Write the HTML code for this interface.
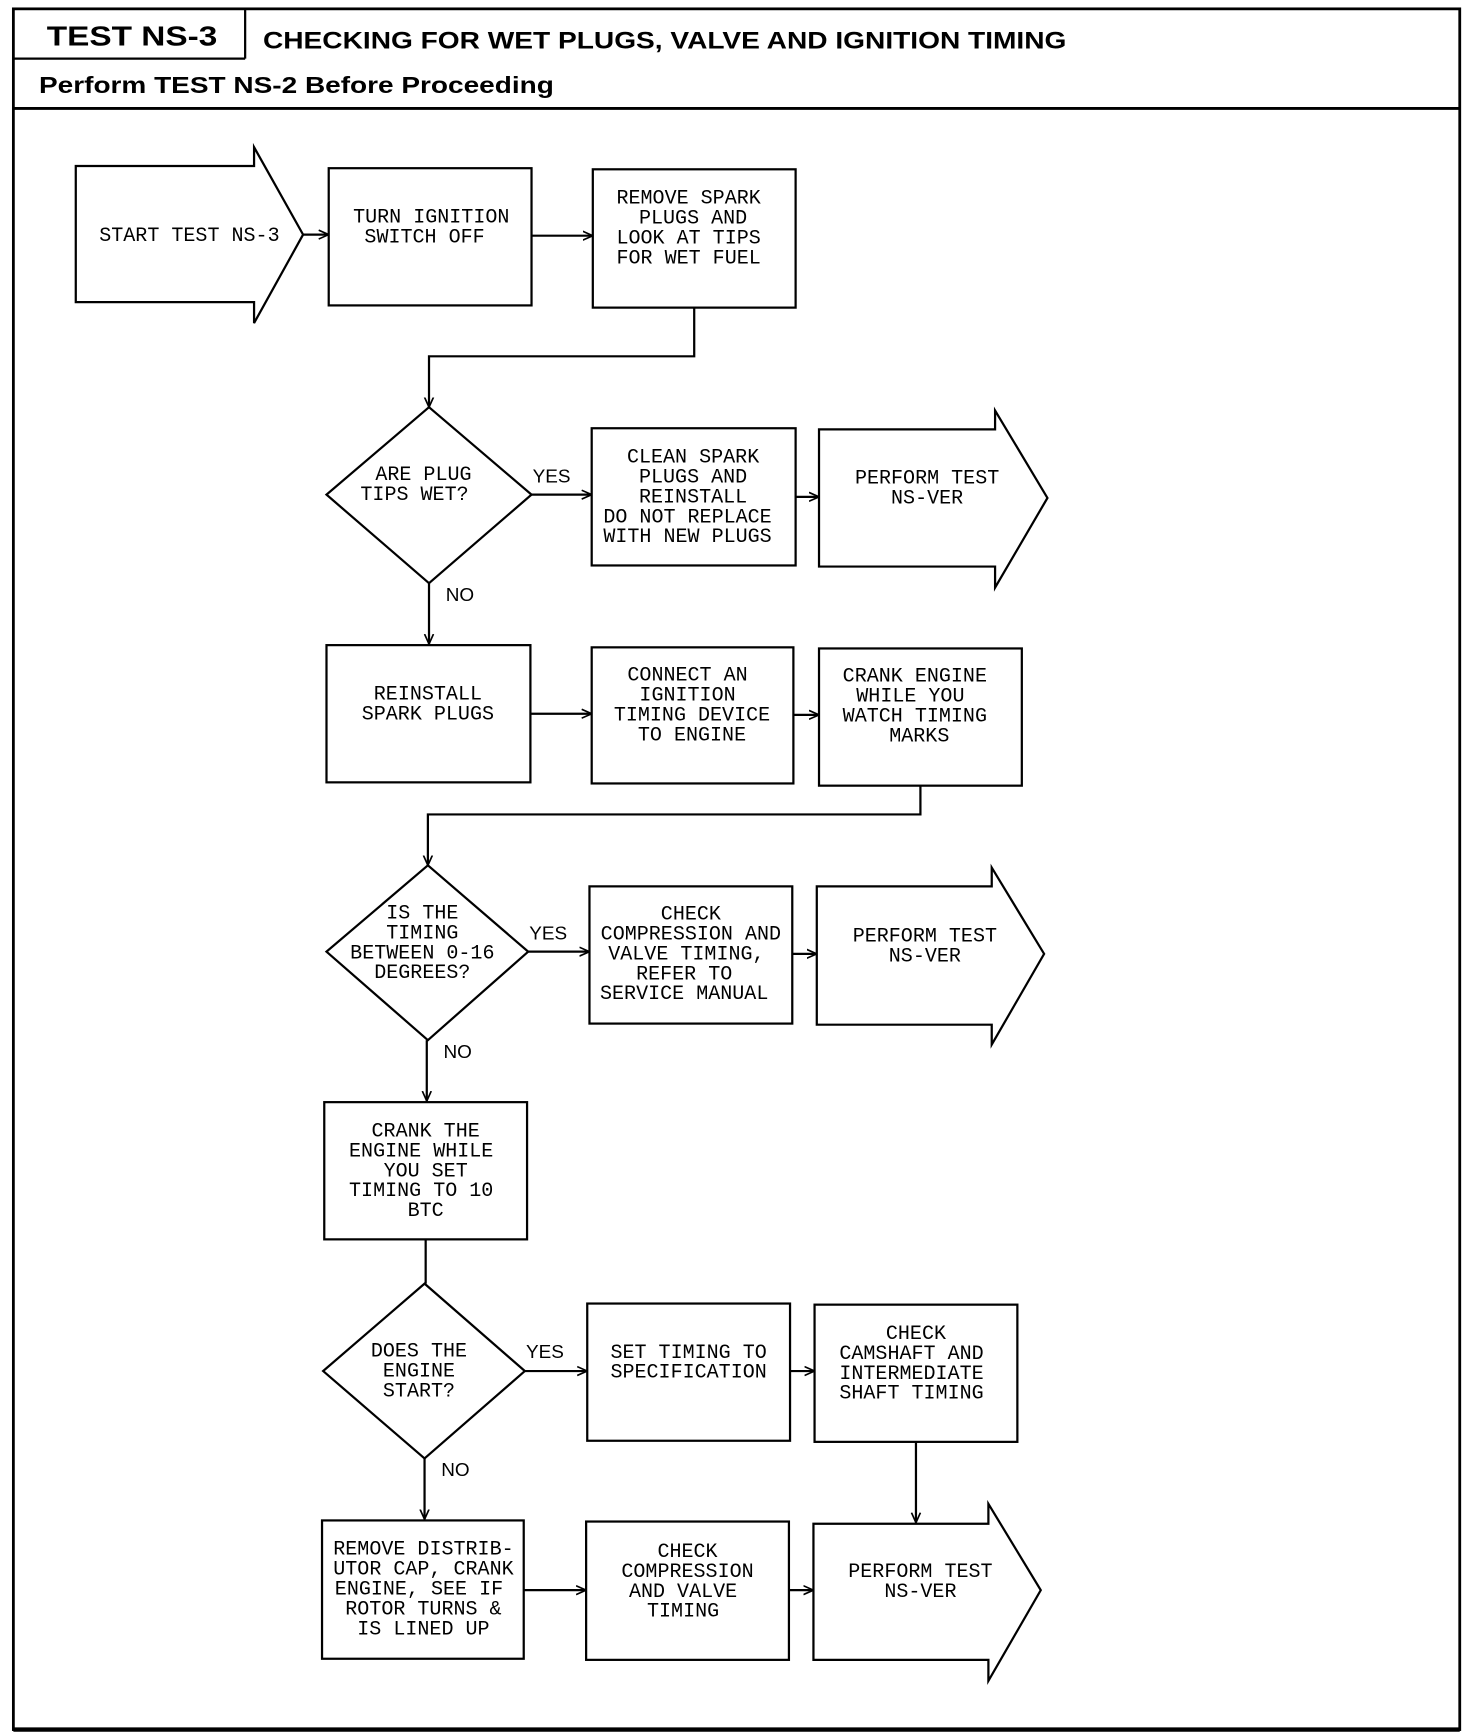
<!DOCTYPE html>
<html><head><meta charset="utf-8"><style>
html,body{margin:0;padding:0;background:#fff;}
svg{display:block;}
.b{fill:#fff;stroke:#000;stroke-width:2;}
.l{fill:none;stroke:#000;stroke-width:2;}
.t{font-family:"Liberation Mono",monospace;font-size:18px;fill:#000;text-anchor:middle;}
.y{font-family:"Liberation Sans",sans-serif;font-size:17px;fill:#000;}
.h{font-family:"Liberation Sans",sans-serif;font-weight:bold;fill:#000;}
</style></head><body>
<svg width="1472" height="1734" viewBox="0 0 1321 1567" preserveAspectRatio="none" xmlns="http://www.w3.org/2000/svg">
<defs><marker id="a" markerWidth="10" markerHeight="10" refX="9" refY="5" orient="auto" markerUnits="userSpaceOnUse"><path d="M0,1 L9,5 L0,9" fill="none" stroke="#000" stroke-width="1.5"/></marker></defs>
<rect x="12" y="8" width="1298" height="1555" fill="none" stroke="#000" stroke-width="2.5"/>
<line x1="12" y1="1563" x2="1310" y2="1563" stroke="#000" stroke-width="4"/>
<line x1="12" y1="53" x2="220" y2="53" stroke="#000" stroke-width="2"/>
<line x1="220" y1="8" x2="220" y2="53" stroke="#000" stroke-width="2"/>
<line x1="12" y1="98" x2="1310" y2="98" stroke="#000" stroke-width="2.5"/>
<text class="h" x="42" y="41" font-size="25" textLength="153" lengthAdjust="spacingAndGlyphs">TEST NS-3</text>
<text class="h" x="236" y="44" font-size="22" textLength="721" lengthAdjust="spacingAndGlyphs">CHECKING FOR WET PLUGS, VALVE AND IGNITION TIMING</text>
<text class="h" x="35" y="84" font-size="21" textLength="462" lengthAdjust="spacingAndGlyphs">Perform TEST NS-2 Before Proceeding</text>

<!-- row 1 -->
<path class="b" d="M68,150 L228,150 L228,133 L272,212 L228,292 L228,273 L68,273 Z"/>
<text class="t" x="170" y="218">START TEST NS-3</text>
<line class="l" x1="272" y1="212" x2="295" y2="212" marker-end="url(#a)"/>
<rect class="b" x="295" y="152" width="182" height="124"/>
<text class="t" x="387" y="201">TURN IGNITION</text><text class="t" x="381" y="219">SWITCH OFF</text>
<line class="l" x1="477" y1="213" x2="532" y2="213" marker-end="url(#a)"/>
<rect class="b" x="532" y="153" width="182" height="125"/>
<text class="t" x="618" y="184">REMOVE SPARK</text><text class="t" x="622" y="202">PLUGS AND</text><text class="t" x="618" y="220">LOOK AT TIPS</text><text class="t" x="618" y="238">FOR WET FUEL</text>
<polyline class="l" points="623,278 623,322 385,322 385,368" marker-end="url(#a)"/>

<!-- row 2 -->
<path class="b" d="M385,368 L477,447 L385,527 L293,447 Z"/>
<text class="t" x="380" y="434">ARE PLUG</text><text class="t" x="372" y="452">TIPS WET?</text>
<text class="y" x="478" y="436">YES</text>
<line class="l" x1="477" y1="447" x2="531" y2="447" marker-end="url(#a)"/>
<rect class="b" x="531" y="387" width="183" height="124"/>
<text class="t" x="622" y="418">CLEAN SPARK</text><text class="t" x="622" y="436">PLUGS AND</text><text class="t" x="622" y="454">REINSTALL</text><text class="t" x="617" y="472">DO NOT REPLACE</text><text class="t" x="617" y="490">WITH NEW PLUGS</text>
<line class="l" x1="714" y1="449" x2="735" y2="449" marker-end="url(#a)"/>
<path class="b" d="M735,388 L893,388 L893,371 L940,450 L893,531 L893,512 L735,512 Z"/>
<text class="t" x="832" y="437">PERFORM TEST</text><text class="t" x="832" y="455">NS-VER</text>
<text class="y" x="400" y="543">NO</text>
<line class="l" x1="385" y1="527" x2="385" y2="582" marker-end="url(#a)"/>

<!-- row 3 -->
<rect class="b" x="293" y="583" width="183" height="124"/>
<text class="t" x="384" y="632">REINSTALL</text><text class="t" x="384" y="650">SPARK PLUGS</text>
<line class="l" x1="476" y1="645" x2="531" y2="645" marker-end="url(#a)"/>
<rect class="b" x="531" y="585" width="181" height="123"/>
<text class="t" x="617" y="615">CONNECT AN</text><text class="t" x="617" y="633">IGNITION</text><text class="t" x="621" y="651">TIMING DEVICE</text><text class="t" x="621" y="669">TO ENGINE</text>
<line class="l" x1="712" y1="646" x2="735" y2="646" marker-end="url(#a)"/>
<rect class="b" x="735" y="586" width="182" height="124"/>
<text class="t" x="821" y="616">CRANK ENGINE</text><text class="t" x="817" y="634">WHILE YOU</text><text class="t" x="821" y="652">WATCH TIMING</text><text class="t" x="825" y="670">MARKS</text>
<polyline class="l" points="826,710 826,736 384,736 384,782" marker-end="url(#a)"/>

<!-- row 4 -->
<path class="b" d="M384,782 L474,860 L384,940 L293,860 Z"/>
<text class="t" x="379" y="830">IS THE</text><text class="t" x="379" y="848">TIMING</text><text class="t" x="379" y="866">BETWEEN 0-16</text><text class="t" x="379" y="884">DEGREES?</text>
<text class="y" x="475" y="849">YES</text>
<line class="l" x1="474" y1="860" x2="529" y2="860" marker-end="url(#a)"/>
<rect class="b" x="529" y="801" width="182" height="124"/>
<text class="t" x="620" y="831">CHECK</text><text class="t" x="620" y="849">COMPRESSION AND</text><text class="t" x="616" y="867">VALVE TIMING,</text><text class="t" x="614" y="885">REFER TO</text><text class="t" x="614" y="903">SERVICE MANUAL</text>
<line class="l" x1="711" y1="862" x2="733" y2="862" marker-end="url(#a)"/>
<path class="b" d="M733,801 L890,801 L890,784 L937,862 L890,944 L890,926 L733,926 Z"/>
<text class="t" x="830" y="851">PERFORM TEST</text><text class="t" x="830" y="869">NS-VER</text>
<text class="y" x="398" y="956">NO</text>
<line class="l" x1="383" y1="940" x2="383" y2="995" marker-end="url(#a)"/>

<!-- row 5 -->
<rect class="b" x="291" y="996" width="182" height="124"/>
<text class="t" x="382" y="1027">CRANK THE</text><text class="t" x="378" y="1045">ENGINE WHILE</text><text class="t" x="382" y="1063">YOU SET</text><text class="t" x="378" y="1081">TIMING TO 10</text><text class="t" x="382" y="1099">BTC</text>
<line class="l" x1="382" y1="1120" x2="382" y2="1160"/>

<!-- row 6 -->
<path class="b" d="M381,1160 L471,1239 L381,1318 L290,1239 Z"/>
<text class="t" x="376" y="1226">DOES THE</text><text class="t" x="376" y="1244">ENGINE</text><text class="t" x="376" y="1262">START?</text>
<text class="y" x="472" y="1227">YES</text>
<line class="l" x1="471" y1="1239" x2="527" y2="1239" marker-end="url(#a)"/>
<rect class="b" x="527" y="1178" width="182" height="124"/>
<text class="t" x="618" y="1227">SET TIMING TO</text><text class="t" x="618" y="1245">SPECIFICATION</text>
<line class="l" x1="709" y1="1239" x2="731" y2="1239" marker-end="url(#a)"/>
<rect class="b" x="731" y="1179" width="182" height="124"/>
<text class="t" x="822" y="1210">CHECK</text><text class="t" x="818" y="1228">CAMSHAFT AND</text><text class="t" x="818" y="1246">INTERMEDIATE</text><text class="t" x="818" y="1264">SHAFT TIMING</text>
<line class="l" x1="822" y1="1303" x2="822" y2="1376" marker-end="url(#a)"/>
<text class="y" x="396" y="1334">NO</text>
<line class="l" x1="381" y1="1318" x2="381" y2="1373" marker-end="url(#a)"/>

<!-- row 7 -->
<rect class="b" x="289" y="1374" width="181" height="125"/>
<text class="t" x="380" y="1405">REMOVE DISTRIB-</text><text class="t" x="380" y="1423">UTOR CAP, CRANK</text><text class="t" x="376" y="1441">ENGINE, SEE IF</text><text class="t" x="380" y="1459">ROTOR TURNS &amp;</text><text class="t" x="380" y="1477">IS LINED UP</text>
<line class="l" x1="470" y1="1437" x2="526" y2="1437" marker-end="url(#a)"/>
<rect class="b" x="526" y="1375" width="182" height="125"/>
<text class="t" x="617" y="1407">CHECK</text><text class="t" x="617" y="1425">COMPRESSION</text><text class="t" x="613" y="1443">AND VALVE</text><text class="t" x="613" y="1461">TIMING</text>
<line class="l" x1="708" y1="1437" x2="730" y2="1437" marker-end="url(#a)"/>
<path class="b" d="M730,1377 L887,1377 L887,1359 L934,1437 L887,1519 L887,1500 L730,1500 Z"/>
<text class="t" x="826" y="1425">PERFORM TEST</text><text class="t" x="826" y="1443">NS-VER</text>
</svg>
</body></html>
